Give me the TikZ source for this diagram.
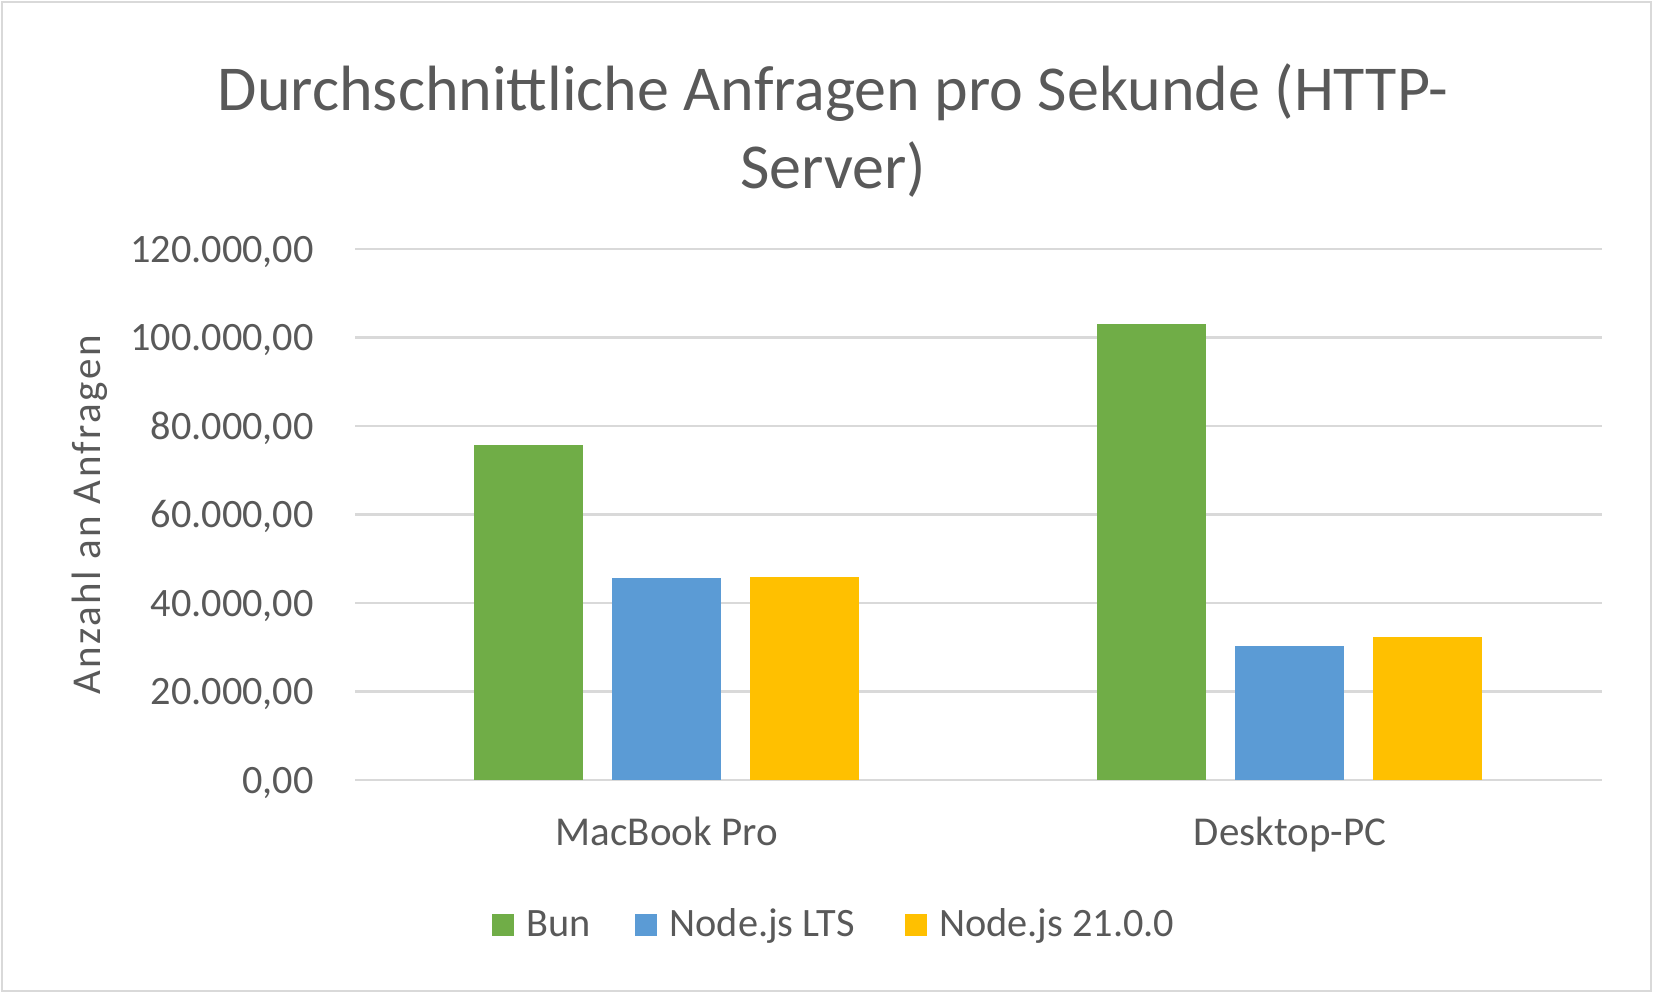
\documentclass[tikz,border=0pt]{standalone}
\usepackage{fontspec}
\setmainfont{Carlito}
\newfontfamily\axisfont[LetterSpace=6.0]{Carlito}
\definecolor{bungreen}{HTML}{70AD47}
\definecolor{ltsblue}{HTML}{5B9BD5}
\definecolor{newyellow}{HTML}{FFC000}
\definecolor{gridgray}{HTML}{D9D9D9}
\definecolor{txtgray}{HTML}{595959}
\tikzset{
  bar/.style={fill=#1, draw=none, inner sep=0pt, outer sep=0pt, anchor=south, minimum width=109pt},
  ticklbl/.style={anchor=base east, inner sep=0pt, text=txtgray, font=\fontsize{40.3}{48}\selectfont},
  catlbl/.style={anchor=base, inner sep=0pt, text=txtgray, font=\fontsize{41}{48}\selectfont},
  leglbl/.style={anchor=base west, inner sep=0pt, text=txtgray, font=\fontsize{40.3}{48}\selectfont},
  legsq/.style={fill=#1, draw=none, inner sep=0pt, outer sep=0pt, anchor=south west, minimum size=22pt},
  titlelbl/.style={anchor=base, inner sep=0pt, text=txtgray, font=\fontsize{64}{78}\selectfont},
  gridln/.style={draw=gridgray, line width=2.5pt}
}
\begin{document}
\begin{tikzpicture}[x=1pt,y=-1pt]
\useasboundingbox (0,0) rectangle (1653,993);
\fill[white] (0,0) rectangle (1653,993);
\draw[draw=gridgray, line width=2.5pt] (2,2) rectangle (1651,991);
% gridlines and tick labels
\foreach \i/\lab in {0/{0,00},1/{20.000,00},2/{40.000,00},3/{60.000,00},4/{80.000,00},5/{100.000,00},6/{120.000,00}}{
  \coordinate (gl\i) at (355,{780-88.5*\i});
  \coordinate (gr\i) at (1602,{780-88.5*\i});
  \draw[gridln] (gl\i) -- (gr\i);
  \node[ticklbl] (t\i) at (314,{780-88.5*\i+13}) {\lab};
}
% bars: MacBook Pro (center 666.75), Desktop-PC (center 1290.25)
\node[bar=bungreen,  minimum height={75.730*4.425pt}] (mb1) at (528.75,780) {};
\node[bar=ltsblue,   minimum height={45.718*4.425pt}] (mb2) at (666.75,780) {};
\node[bar=newyellow, minimum height={45.945*4.425pt}] (mb3) at (804.25,780) {};
\node[bar=bungreen,  minimum height={103.051*4.425pt}] (dp1) at (1151.5,780) {};
\node[bar=ltsblue,   minimum height={30.282*4.425pt}] (dp2) at (1289.75,780) {};
\node[bar=newyellow, minimum height={32.316*4.425pt}] (dp3) at (1427.5,780) {};
% category labels
\node[catlbl] (c1) at (666.75,845.5) {MacBook Pro};
\node[catlbl] (c2) at (1290,845.5) {Desktop-PC};
% title
\node[titlelbl] (ti1) at (833,110) {Durchschnittliche Anfragen pro Sekunde (HTTP-};
\node[titlelbl] (ti2) at (833,188) {Server)};
% axis title
\node[anchor=base, rotate=90, inner sep=0pt, text=txtgray, font=\axisfont\fontsize{41}{48}\selectfont] (yt) at (100,515) {Anzahl an Anfragen};
% legend
\node[legsq=bungreen] (ls1) at (491.8,936) {};
\node[leglbl] (ll1) at (526.5,936) {Bun};
\node[legsq=ltsblue] (ls2) at (635,936) {};
\node[leglbl] (ll2) at (669.4,936) {Node.js LTS};
\node[legsq=newyellow] (ls3) at (905,936) {};
\node[leglbl] (ll3) at (939,936) {Node.js 21.0.0};
\end{tikzpicture}
\end{document}
